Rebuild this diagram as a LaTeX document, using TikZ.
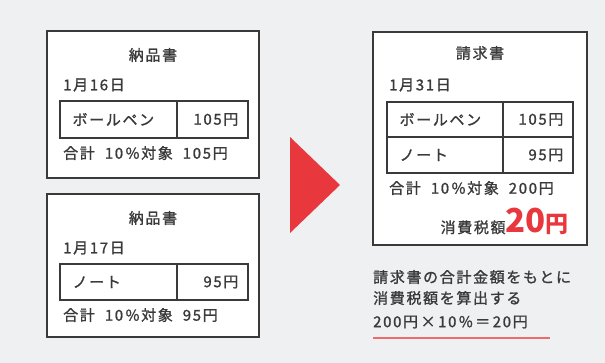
\documentclass[tikz,border=0pt]{standalone}
\usepackage{fontspec}
\setmainfont{Noto Sans CJK JP}[LetterSpace=11,FakeBold=1.2]
\newfontfamily\taxfont{Noto Sans CJK JP}
\usetikzlibrary{positioning}
\definecolor{bggray}{HTML}{EFF0F2}
\definecolor{ink}{HTML}{3A3A3A}
\definecolor{taxred}{HTML}{E8383D}
\tikzset{
  >=latex,
}
\tikzstyle{every node}=[font=\fontsize{15}{17}\selectfont,text=ink,inner sep=0pt]
\tikzstyle{frame}=[draw=ink,line width=1.3pt,fill=white]
\tikzstyle{cell}=[draw=ink,line width=1.2pt]
\newcommand{\gap}{\hspace{10pt}}

\begin{document}
\begin{tikzpicture}[x=1pt,y=-1pt]
        \fill[bggray] (0,0) rectangle (605,363);
        \useasboundingbox (0,0) rectangle (605,363);
        % delivery slips
        \node[frame,minimum width=212pt,minimum height=147pt] (nohin1) at (153,104.5) {};
        \node (title1) at (153,55) {納品書};
        \node[anchor=west] (date1) at (63,85) {1月16日};
        \node[cell,minimum width=117pt,minimum height=37pt] (item1) at (118.5,119.5) {};
        \node[cell,minimum width=71pt,minimum height=37pt] (price1) at (212.5,119.5) {};
        \node[right=13pt of item1.west] {ボールペン};
        \node[left=10pt of price1.east] {105円};
        \node[anchor=west] (sum1) at (63,153) {合計\gap 10\,\%対象\gap 105円};

        \node[frame,minimum width=212pt,minimum height=143pt] (nohin2) at (153,265.5) {};
        \node (title2) at (153,218) {納品書};
        \node[anchor=west] (date2) at (63,248) {1月17日};
        \node[cell,minimum width=117pt,minimum height=36pt] (item2) at (118.5,282) {};
        \node[cell,minimum width=71pt,minimum height=36pt] (price2) at (212.5,282) {};
        \node[right=13pt of item2.west] {ノート};
        \node[left=10pt of price2.east] {95円};
        \node[anchor=west] (sum2) at (63,315) {合計\gap 10\,\%対象\gap 95円};

        % arrow
        \fill[taxred] (290,137) -- (340,185) -- (290,233) -- cycle;

        % invoice
        \node[frame,minimum width=214pt,minimum height=213pt] (seikyu) at (480,138.5) {};
        \node (title3) at (480,53) {請求書};
        \node[anchor=west] (date3) at (389,85) {1月31日};
        \node[cell,minimum width=116pt,minimum height=35pt] (item3) at (445,119.5) {};
        \node[cell,minimum width=70pt,minimum height=35pt] (price3) at (538,119.5) {};
        \node[cell,minimum width=116pt,minimum height=36pt] (item4) at (445,155) {};
        \node[cell,minimum width=70pt,minimum height=36pt] (price4) at (538,155) {};
        \node[right=13pt of item3.west] {ボールペン};
        \node[left=10pt of price3.east] {105円};
        \node[right=13pt of item4.west] {ノート};
        \node[left=10pt of price4.east] {95円};
        \node[anchor=west] (sum3) at (389,188) {合計\gap 10\,\%対象\gap 200円};
        \node[anchor=base east] (tax) at (569,233) {消費税額\textcolor{taxred}{\taxfont\bfseries\fontsize{33}{33}\selectfont 20\fontsize{23}{23}\selectfont 円}};

        % note
        \node[anchor=west] (note1) at (373,277) {請求書の合計金額をもとに};
        \node[anchor=west] (note2) at (373,298) {消費税額を算出する};
        \node[anchor=west] (note3) at (373,322) {200円\,×\,10\,\%\,＝\,20円};
        \draw[taxred!75,line width=2pt] ([yshift=-9pt]note3.south west) -- ++(177,0);
      \end{tikzpicture}
\end{document}
